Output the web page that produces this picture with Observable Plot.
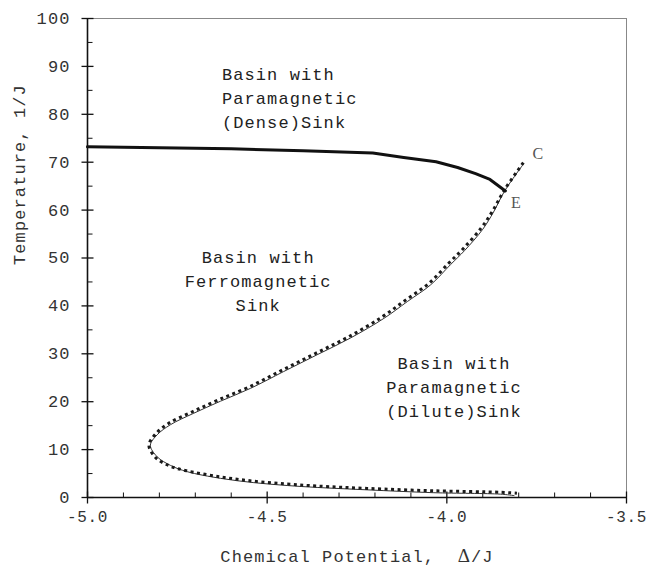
<!DOCTYPE html>
<html><head><meta charset="utf-8">
<script src="https://cdn.jsdelivr.net/npm/d3@7"></script>
<script src="https://cdn.jsdelivr.net/npm/@observablehq/plot@0.6"></script>
<style>body{margin:0;background:#fff}</style>
</head><body><div id="chart"></div>
<script>
// Boundary of paramagnetic (dense) basin — thick solid line
const denseX = [-5.0, -4.8, -4.6, -4.4, -4.206, -4.12, -4.03, -3.97, -3.92, -3.88, -3.837];
const denseT = [73.2, 73.0, 72.8, 72.4, 71.9, 71.0, 70.1, 68.9, 67.6, 66.4, 64.0];

// Thin solid boundary
const thinX = [-3.787, -3.839, -3.87, -3.90, -3.95, -3.99, -4.045, -4.11, -4.175, -4.268, -4.361, -4.454, -4.546, -4.63, -4.704, -4.769, -4.806, -4.825, -4.806, -4.769, -4.723, -4.63, -4.537, -4.444, -4.361, -4.222, -4.036, -3.851, -3.813];
const thinT = [69.6, 64.0, 59.6, 56.0, 51.6, 48.6, 44.4, 40.9, 37.4, 33.3, 29.8, 26.3, 22.8, 20.1, 17.6, 15.2, 13.1, 10.9, 8.5, 6.7, 5.4, 4.0, 3.1, 2.5, 2.1, 1.6, 1.0, 0.7, 0.4];

// Dotted boundary
const dotX = [-3.787, -3.839, -3.872, -3.904, -3.955, -3.995, -4.05, -4.115, -4.18, -4.272, -4.365, -4.458, -4.55, -4.635, -4.708, -4.774, -4.81, -4.829, -4.81, -4.772, -4.725, -4.63, -4.537, -4.444, -4.361, -4.222, -4.036, -3.851, -3.805];
const dotT = [69.9, 64.3, 59.9, 56.3, 51.9, 48.9, 44.7, 41.2, 37.7, 33.6, 30.1, 26.6, 23.1, 20.4, 17.9, 15.5, 13.3, 10.9, 8.3, 6.6, 5.6, 4.3, 3.4, 2.8, 2.4, 1.9, 1.4, 1.1, 0.9];

// Region labels
const regionText = ["Basin with\nFerromagnetic\nSink", "Basin with\nParamagnetic\n(Dilute)Sink"];
const regionX = [-4.525, -3.980];
const regionT = [45.5, 23.5];
const denseLabel = ["Basin with\nParamagnetic\n(Dense)Sink"];
const denseLabelX = [-4.626];
const denseLabelT = [83.7];

// Point labels
const pointText = ["C", "E"];
const pointX = [-3.745, -3.806];
const pointT = [71.8, 61.6];

// Ticks
const xMajor = [-5.0, -4.5, -4.0, -3.5];
const xMinor = [-4.9, -4.8, -4.7, -4.6, -4.4, -4.3, -4.2, -4.1, -3.9, -3.8, -3.7, -3.6];
const yMajor = [0, 10, 20, 30, 40, 50, 60, 70, 80, 90, 100];
const yMinor = [5, 15, 25, 35, 45, 55, 65, 75, 85, 95];

const xTitle = "Chemical Potential,  Δ/J";
const yTitle = "Temperature, 1/J";

const dense = denseX.map((x, i) => ({x, t: denseT[i]}));
const thin = thinX.map((x, i) => ({x, t: thinT[i]}));
const dotted = dotX.map((x, i) => ({x, t: dotT[i]}));

const tickUp = {draw(c) { c.moveTo(0, 0); c.lineTo(0, -5); }};
const tickV = {draw(c) { c.moveTo(0, -6); c.lineTo(0, 6); }};
const tickRight = {draw(c) { c.moveTo(0, 0); c.lineTo(5, 0); }};
const tickH = {draw(c) { c.moveTo(-6, 0); c.lineTo(6, 0); }};

const mono = "'Liberation Mono', 'Courier New', monospace";
const serif = "'Liberation Serif', 'Times New Roman', serif";
const xFmt = d => d.toFixed(1);

const chart = Plot.plot({
  width: 647,
  height: 568,
  marginLeft: 87,
  marginRight: 21,
  marginTop: 18,
  marginBottom: 71,
  style: {fontFamily: mono, fontSize: "17px", letterSpacing: "1.1px", background: "#fff", color: "#222"},
  x: {domain: [-5.0, -3.5]},
  y: {domain: [0, 100]},
  marks: [
    Plot.frame({stroke: "#888", strokeWidth: 1}),
    Plot.axisX(xMajor, {tickSize: 0, tickPadding: 13, tickFormat: xFmt, label: null, fill: "#333", fontSize: 16}),
    Plot.axisY(yMajor, {tickSize: 0, tickPadding: 17, tickFormat: d => String(d), label: null, fill: "#333", fontSize: 17}),
    Plot.ruleX([-5.0], {stroke: "#111", strokeWidth: 1.6}),
    Plot.ruleY([0], {stroke: "#111", strokeWidth: 1.6}),
    Plot.dot(xMinor, {x: d => d, y: 0, symbol: tickUp, fill: "none", stroke: "#111", strokeWidth: 1, clip: false}),
    Plot.dot(xMajor, {x: d => d, y: 0, symbol: tickV, fill: "none", stroke: "#111", strokeWidth: 1.3, clip: false}),
    Plot.dot(yMinor, {x: -5.0, y: d => d, symbol: tickRight, fill: "none", stroke: "#111", strokeWidth: 1, clip: false}),
    Plot.dot(yMajor, {x: -5.0, y: d => d, symbol: tickH, fill: "none", stroke: "#111", strokeWidth: 1.3, clip: false}),
    Plot.line(thin, {x: "x", y: "t", curve: "catmull-rom", stroke: "#333", strokeWidth: 1}),
    Plot.line(dotted, {x: "x", y: "t", curve: "catmull-rom", stroke: "#1a1a1a", strokeWidth: 3, strokeDasharray: "3,3.5", strokeLinecap: "butt"}),
    Plot.line(dense, {x: "x", y: "t", stroke: "#111", strokeWidth: 3, strokeLinejoin: "round"}),
    Plot.text(regionText, {x: (d, i) => regionX[i], y: (d, i) => regionT[i], text: d => d, textAnchor: "middle", lineAnchor: "middle", lineHeight: 1.42, fill: "#222", fontSize: 17}),
    Plot.text(denseLabel, {x: (d, i) => denseLabelX[i], y: (d, i) => denseLabelT[i], text: d => d, textAnchor: "start", lineAnchor: "middle", lineHeight: 1.42, fill: "#222", fontSize: 17}),
    Plot.text(pointText, {x: (d, i) => pointX[i], y: (d, i) => pointT[i], text: d => d, fontFamily: serif, fontSize: 16, fill: "#555"}),
    Plot.text([yTitle], {frameAnchor: "left", text: d => d, rotate: -90, dx: -68, dy: 7, fill: "#333", fontSize: 17}),
    Plot.text([xTitle], {frameAnchor: "bottom", text: d => d, dy: 59, lineAnchor: "middle", fill: "#333", fontSize: 17})
  ]
});

document.getElementById("chart").appendChild(chart);

const xLabels = new Set(xMajor.map(xFmt));
d3.select(chart).selectAll("text").each(function() {
  const el = d3.select(this);
  if (this.textContent === xTitle) {
    // Render the Δ in a serif face, as in the original
    const parts = xTitle.split("Δ");
    el.text(null);
    el.append("tspan").text(parts[0]);
    el.append("tspan").attr("font-family", serif).attr("font-size", "19px").text("Δ");
    el.append("tspan").text(parts[1]);
  } else if (xLabels.has(this.textContent)) {
    el.style("letter-spacing", "0.6px");
  }
});
</script>
</body></html>
